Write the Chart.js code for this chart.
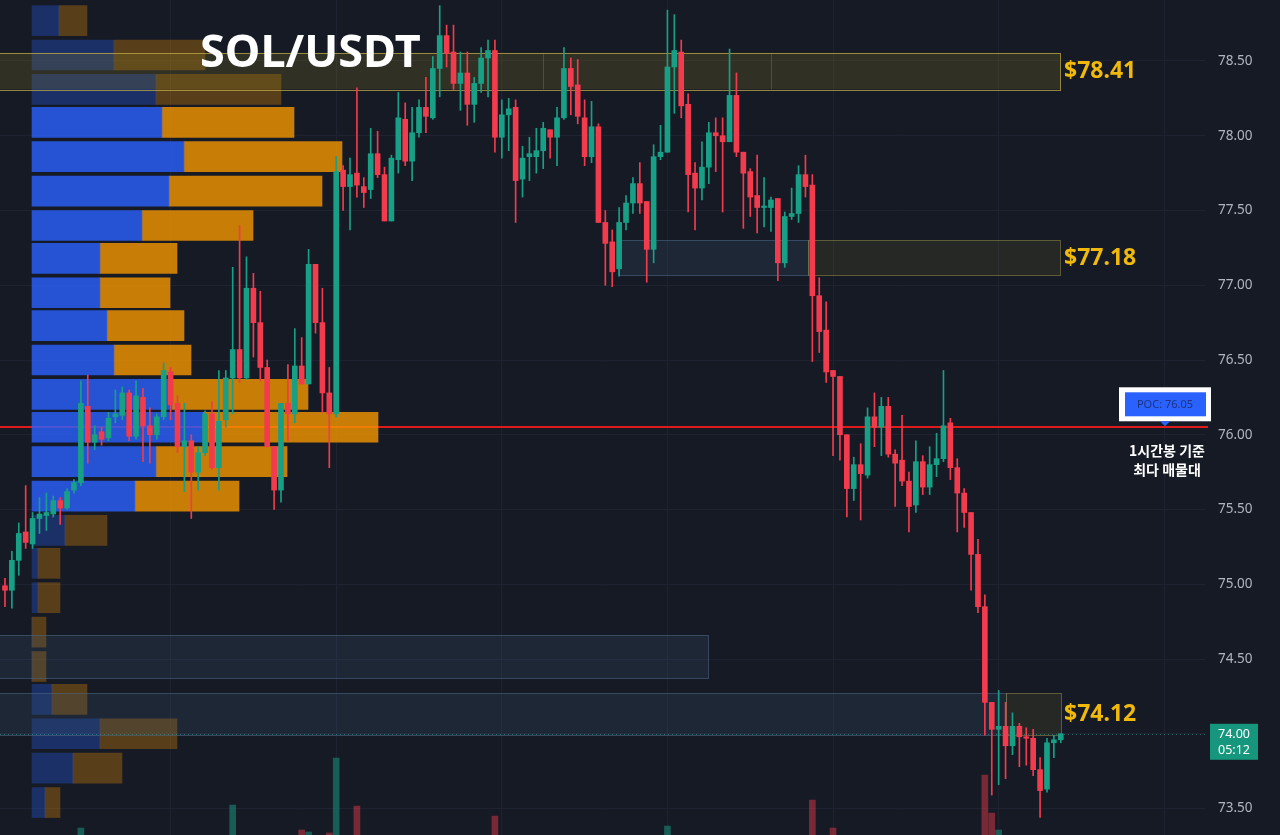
<!DOCTYPE html>
<html>
<head>
<meta charset="utf-8">
<script src="https://cdn.jsdelivr.net/npm/chart.js@4.4.1/dist/chart.umd.min.js"></script>
<style>
  html, body { margin: 0; padding: 0; background: #161a25; }
  #wrap { position: relative; width: 1280px; height: 835px; overflow: hidden; }
  #wrap canvas { position: absolute; left: 0; top: 0; }
</style>
</head>
<body>
<div id="wrap">
  <canvas id="gridChart" width="1280" height="835"></canvas>
  <canvas id="profileChart" width="1280" height="835"></canvas>
  <canvas id="priceChart" width="1280" height="835"></canvas>
</div>
<script>
// SOL/USDT 1시간봉 (154개)
const opens = [
  74.99, 74.96, 75.16, 75.35, 75.27, 75.44, 75.46, 75.47, 75.56, 75.51,
  75.63, 75.68, 76.19, 75.95, 76.02, 75.98, 76.12, 76.13, 76.28, 75.99,
  76.25, 76.06, 76.00, 76.12, 76.42, 76.21, 75.92, 75.96, 75.75, 75.88,
  76.14, 75.78, 76.10, 76.38, 76.57, 76.38, 76.98, 76.75, 76.45, 75.92,
  75.63, 76.21, 76.14, 76.46, 76.34, 77.14, 76.75, 76.28, 76.14, 77.77,
  77.66, 77.75, 77.66, 77.64, 77.88, 77.74, 77.43, 77.84, 78.11, 77.83,
  78.02, 78.19, 78.12, 78.45, 78.67, 78.56, 78.35, 78.42, 78.21, 78.35,
  78.52, 78.57, 77.99, 78.14, 78.19, 77.71, 77.86, 77.86, 77.90, 78.04,
  77.99, 78.12, 78.45, 78.34, 78.12, 77.86, 78.06, 77.42, 77.29, 77.11,
  77.42, 77.55, 77.68, 77.56, 77.24, 77.86, 77.89, 78.46, 78.56, 78.21,
  77.75, 77.65, 77.79, 78.02, 78.00, 77.96, 78.27, 77.89, 77.76, 77.60,
  77.52, 77.52, 77.58, 77.15, 77.46, 77.48, 77.74, 77.67, 76.93, 76.70,
  76.43, 76.39, 76.00, 75.64, 75.80, 75.73, 76.12, 76.05, 76.19, 75.87,
  75.83, 75.69, 75.53, 75.82, 75.65, 75.80, 75.84, 76.08, 75.78, 75.61,
  75.48, 75.20, 74.85, 74.21, 74.03, 74.05, 73.92, 74.05, 73.98, 73.97,
  73.76, 73.63, 73.94, 73.96
];
const highs = [
  75.04, 75.22, 75.41, 75.66, 75.48, 75.58, 75.61, 75.59, 75.58, 75.64,
  75.70, 76.36, 76.40, 76.06, 76.05, 76.15, 76.30, 76.32, 76.30, 76.36,
  76.31, 76.18, 76.14, 76.48, 76.45, 76.26, 76.21, 76.00, 75.92, 76.16,
  76.22, 76.43, 76.43, 77.12, 77.40, 77.19, 77.08, 76.96, 76.50, 75.92,
  76.21, 76.47, 76.71, 76.65, 77.24, 77.14, 76.98, 76.45, 77.86, 77.80,
  77.85, 78.32, 77.72, 78.05, 78.03, 77.79, 77.87, 78.29, 78.22, 78.19,
  78.24, 78.39, 78.53, 78.87, 78.74, 78.74, 78.56, 78.56, 78.39, 78.59,
  78.64, 78.64, 78.24, 78.25, 78.24, 77.93, 77.99, 78.05, 78.09, 78.04,
  78.19, 78.59, 78.52, 78.51, 78.24, 78.23, 78.08, 77.50, 77.37, 77.52,
  77.60, 77.72, 77.82, 77.56, 77.94, 78.07, 78.84, 78.81, 78.64, 78.28,
  77.82, 77.96, 78.09, 78.12, 78.12, 78.58, 78.42, 77.89, 77.78, 77.87,
  77.72, 77.59, 77.58, 77.49, 77.65, 77.80, 77.87, 77.74, 77.05, 76.89,
  76.43, 76.39, 76.00, 75.85, 75.94, 76.18, 76.28, 76.25, 76.25, 75.90,
  76.13, 75.75, 75.96, 75.86, 75.92, 76.01, 76.43, 76.11, 75.84, 75.64,
  75.48, 75.30, 74.93, 74.21, 74.29, 74.21, 74.14, 74.07, 74.04, 74.03,
  73.84, 73.97, 73.99, 74.00
];
const lows = [
  74.85, 74.84, 75.06, 75.24, 75.24, 75.34, 75.36, 75.45, 75.40, 75.50,
  75.61, 75.66, 75.81, 75.90, 75.93, 75.96, 76.08, 76.10, 75.96, 75.97,
  75.82, 75.81, 75.97, 76.10, 76.10, 75.88, 75.62, 75.44, 75.63, 75.86,
  75.77, 75.63, 76.05, 76.14, 76.35, 76.37, 76.52, 76.36, 75.92, 75.50,
  75.55, 75.96, 76.08, 76.34, 76.34, 76.68, 76.15, 75.78, 76.12, 77.50,
  77.37, 77.59, 77.52, 77.58, 77.72, 77.43, 77.43, 77.75, 77.80, 77.70,
  77.99, 78.02, 78.11, 78.26, 78.46, 78.31, 78.17, 78.07, 78.09, 78.29,
  78.26, 77.89, 77.85, 77.90, 77.42, 77.59, 77.70, 77.75, 77.78, 77.85,
  77.80, 78.11, 78.14, 78.08, 77.80, 77.82, 77.42, 77.00, 76.99, 77.06,
  77.37, 77.48, 77.48, 77.02, 77.15, 77.84, 77.89, 78.15, 78.12, 77.49,
  77.37, 77.57, 77.68, 77.76, 77.49, 77.96, 77.86, 77.38, 77.46, 77.35,
  77.39, 77.36, 77.03, 77.12, 77.44, 77.42, 77.59, 76.49, 76.55, 76.35,
  75.86, 75.83, 75.45, 75.56, 75.43, 75.71, 75.92, 75.86, 75.85, 75.52,
  75.66, 75.35, 75.48, 75.60, 75.60, 75.72, 75.82, 75.70, 75.35, 75.38,
  74.96, 74.81, 73.99, 73.59, 73.66, 73.70, 73.86, 73.78, 73.79, 73.72,
  73.44, 73.61, 73.84, 73.94
];
const closes = [
  74.96, 75.16, 75.34, 75.28, 75.44, 75.47, 75.48, 75.56, 75.51, 75.62,
  75.68, 76.21, 75.95, 76.00, 75.97, 76.11, 76.14, 76.28, 75.99, 76.26,
  76.06, 76.00, 76.12, 76.43, 76.20, 75.92, 75.96, 75.75, 75.88, 76.14,
  75.78, 76.09, 76.38, 76.57, 76.38, 76.98, 76.75, 76.45, 75.92, 75.63,
  76.21, 76.14, 76.46, 76.34, 77.14, 76.75, 76.28, 76.14, 77.76, 77.66,
  77.74, 77.67, 77.62, 77.88, 77.74, 77.43, 77.85, 78.12, 77.83, 78.02,
  78.19, 78.13, 78.45, 78.67, 78.55, 78.35, 78.42, 78.21, 78.35, 78.52,
  78.57, 77.99, 78.14, 78.18, 77.70, 77.85, 77.88, 77.90, 78.05, 77.99,
  78.12, 78.45, 78.33, 78.13, 77.86, 78.06, 77.42, 77.28, 77.09, 77.42,
  77.55, 77.68, 77.55, 77.24, 77.86, 77.89, 78.46, 78.57, 78.20, 77.74,
  77.65, 77.79, 78.02, 78.00, 77.96, 78.27, 77.89, 77.75, 77.59, 77.52,
  77.53, 77.57, 77.15, 77.46, 77.48, 77.74, 77.66, 76.93, 76.69, 76.42,
  76.39, 76.00, 75.64, 75.80, 75.74, 76.12, 76.05, 76.19, 75.87, 75.81,
  75.69, 75.52, 75.82, 75.65, 75.80, 75.84, 76.06, 75.78, 75.61, 75.48,
  75.20, 74.85, 74.21, 74.03, 74.05, 73.92, 74.05, 73.98, 73.97, 73.76,
  73.62, 73.94, 73.96, 74.00
];
// 거래량 (K SOL)
const volumes = [
  62, 75, 88, 94, 58, 51, 47, 55, 49, 60,
  52, 127, 98, 54, 41, 57, 49, 66, 71, 80,
  77, 63, 48, 95, 72, 81, 69, 84, 56, 61,
  74, 103, 92, 150, 112, 118, 86, 79, 109, 97,
  101, 76, 88, 125, 123, 96, 104, 122, 197, 91,
  84, 149, 58, 77, 66, 83, 80, 99, 87, 72,
  61, 70, 89, 116, 73, 85, 64, 79, 60, 74,
  83, 139, 78, 55, 101, 70, 46, 52, 68, 44,
  57, 102, 81, 69, 73, 66, 108, 95, 87, 79,
  64, 58, 62, 90, 111, 53, 129, 97, 94, 113,
  76, 60, 71, 48, 82, 106, 93, 78, 67, 72,
  45, 50, 98, 75, 42, 70, 63, 155, 110, 104,
  127, 107, 113, 80, 92, 98, 68, 76, 86, 71,
  88, 93, 84, 66, 59, 57, 115, 92, 85, 74,
  109, 117, 180, 142, 125, 101, 76, 68, 59, 87,
  96, 104, 62, 35
];
const priceTicks = [73.5, 74.0, 74.5, 75.0, 75.5, 76.0, 76.5, 77.0, 77.5, 78.0, 78.5];
const dayBreaks = [24, 48, 72, 96, 120, 144, 168];

// 매물대 (volume profile)
const profilePrices = [78.77, 78.54, 78.31, 78.09, 77.86, 77.63, 77.40, 77.18, 76.95, 76.73, 76.50, 76.27,
                       76.05, 75.82, 75.59, 75.36, 75.14, 74.91, 74.68, 74.45, 74.23, 74.00, 73.77, 73.54];
const profileBuy  = [27, 82, 124, 130, 152, 137, 110, 68, 68, 75, 82, 140, 171, 124, 103, 33, 6, 6, 0, 0, 20, 68, 41, 13];
const profileSell = [28, 91, 125, 132, 158, 153, 111, 77, 70, 77, 77, 136, 175, 131, 104, 42, 22, 22, 14, 14, 35, 77, 49, 15];
const valueAreaHigh = 78.20;
const valueAreaLow = 75.48;
const pocPrice = 76.05;

// 지지/저항 구간
const zoneLabels = ['$78.41', '$77.18', '', '$74.12'];
const zoneHigh   = [78.555, 77.30, 74.66, 74.27];
const zoneLow    = [78.31, 77.065, 74.37, 73.99];
const zoneFrom   = [-1, 88.8, -1, -1];
const zoneSplit  = [-1, 116.4, 101.9, 145.1];
const zoneTo     = [152.9, 152.9, 101.9, 153.1];
const zone1Dividers = [78, 111];

const lastPrice = 74.00;
const countdown = '05:12';

const yMin = 73.323, yMax = 78.908;
const xMin = -0.72, xMax = 173.9;

Chart.defaults.font.family = '"Noto Sans", sans-serif';

const upColor = '#18a086';
const downColor = '#f23b4c';
const gridColor = '#1f2331';
const idx = opens.map((_, i) => i);
const candleColors = idx.map(i => closes[i] >= opens[i] ? upColor : downColor);

const baseOptions = {
  responsive: false,
  animation: false,
  events: [],
  layout: { padding: 0 },
  plugins: { legend: { display: false }, tooltip: { enabled: false } }
};

// 가격/시간 축 (그리드는 맨 아래 캔버스에만 그림)
function priceScales(showGrid) {
  return {
    x: {
      type: 'linear', min: xMin, max: xMax, offset: false,
      grid: { display: showGrid, color: gridColor, drawTicks: false, offset: false },
      border: { display: false },
      ticks: { display: false },
      afterBuildTicks: s => { s.ticks = dayBreaks.map(v => ({ value: v })); },
      afterFit: s => { s.height = 0; s.paddingLeft = 0; s.paddingRight = 0; }
    },
    y: {
      type: 'linear', position: 'right', min: yMin, max: yMax,
      grid: { display: showGrid, color: gridColor, drawTicks: false },
      border: { display: false },
      ticks: { color: showGrid ? '#b2b5be' : 'rgba(0,0,0,0)', padding: 13, font: { size: 13.5 }, callback: v => v.toFixed(2) },
      afterBuildTicks: s => { s.ticks = priceTicks.map(v => ({ value: v })); },
      afterFit: s => { s.width = 75; s.paddingTop = 0; s.paddingBottom = 0; }
    },
    yv: { type: 'linear', display: false, min: 120, max: 955 }
  };
}

new Chart(document.getElementById('gridChart'), {
  type: 'bar',
  data: { datasets: [] },
  options: { ...baseOptions, scales: priceScales(true) }
});

// POC 라인 (매물대 캔버스 위에)
const pocLinePlugin = {
  id: 'pocLine',
  beforeDatasetsDraw(chart) {
    const ctx = chart.ctx;
    const y = Math.round(chart.scales.y.getPixelForValue(pocPrice));
    ctx.save();
    ctx.strokeStyle = '#e01b1b';
    ctx.lineWidth = 2;
    ctx.beginPath();
    ctx.moveTo(0, y);
    ctx.lineTo(1208, y);
    ctx.stroke();
    ctx.restore();
  }
};

const inVA = p => p <= valueAreaHigh && p >= valueAreaLow;

new Chart(document.getElementById('profileChart'), {
  type: 'bar',
  data: {
    datasets: [
      {
        data: profilePrices.map((p, i) => ({ y: p, x: [0, profileBuy[i]] })),
        backgroundColor: profilePrices.map(p => inVA(p) ? 'rgba(41,98,255,0.8)' : 'rgba(41,98,255,0.3)'),
        barThickness: 30,
        grouped: false
      },
      {
        data: profilePrices.map((p, i) => ({ y: p, x: [profileBuy[i], profileBuy[i] + profileSell[i]] })),
        backgroundColor: profilePrices.map(p => inVA(p) ? 'rgba(245,150,0,0.8)' : 'rgba(245,150,0,0.3)'),
        barThickness: 30,
        grouped: false
      }
    ]
  },
  options: {
    ...baseOptions,
    indexAxis: 'y',
    scales: {
      x: { type: 'linear', min: -32, max: 1248, display: false },
      y: { type: 'linear', min: yMin, max: yMax, display: false, offset: false }
    }
  },
  plugins: [pocLinePlugin]
});

function box(ctx, x0, y0, x1, y1, fill, stroke) {
  ctx.fillStyle = fill;
  ctx.fillRect(x0, y0, x1 - x0, y1 - y0);
  ctx.strokeStyle = stroke;
  ctx.lineWidth = 1;
  ctx.strokeRect(Math.round(x0) + 0.5, Math.round(y0) + 0.5, Math.round(x1 - x0), Math.round(y1 - y0));
}

const overlayPlugin = {
  id: 'overlay',
  beforeDatasetsDraw(chart) {
    const { ctx, chartArea, scales: { x, y } } = chart;
    ctx.save();
    zoneHigh.forEach((hi, k) => {
      const top = y.getPixelForValue(hi);
      const bot = y.getPixelForValue(zoneLow[k]);
      const x0 = x.getPixelForValue(zoneFrom[k]);
      const xs = x.getPixelForValue(zoneSplit[k]);
      const x1 = x.getPixelForValue(zoneTo[k]);
      if (xs > x0) box(ctx, x0, top, xs, bot, 'rgba(60,85,120,0.22)', 'rgba(75,100,130,0.6)');
      if (x1 > xs) {
        const strong = k === 0;
        box(ctx, xs, top, x1, bot,
          strong ? 'rgba(130,115,40,0.25)' : 'rgba(120,110,50,0.17)',
          strong ? 'rgba(190,170,70,0.75)' : 'rgba(150,140,70,0.55)');
      }
    });
    // 상단 구간 내부 구분선
    const t1 = y.getPixelForValue(zoneHigh[0]), b1 = y.getPixelForValue(zoneLow[0]);
    ctx.strokeStyle = 'rgba(150,140,80,0.35)';
    zone1Dividers.forEach(d => {
      const px = Math.round(x.getPixelForValue(d)) + 0.5;
      ctx.beginPath(); ctx.moveTo(px, t1); ctx.lineTo(px, b1); ctx.stroke();
    });
    // 현재가 점선
    const py = Math.round(y.getPixelForValue(lastPrice)) + 0.5;
    ctx.strokeStyle = 'rgba(38,166,154,0.55)';
    ctx.setLineDash([1, 3]);
    ctx.beginPath(); ctx.moveTo(chartArea.left, py); ctx.lineTo(chartArea.right + 3, py); ctx.stroke();
    ctx.restore();
  },
  afterDraw(chart) {
    const { ctx, chartArea, scales: { y } } = chart;
    ctx.save();
    // 구간 가격 라벨
    ctx.font = 'bold 23px "Noto Sans"';
    ctx.fillStyle = '#f0b90b';
    ctx.textBaseline = 'middle';
    ctx.textAlign = 'left';
    zoneLabels.forEach((t, k) => {
      if (!t) return;
      const cy = (y.getPixelForValue(zoneHigh[k]) + y.getPixelForValue(zoneLow[k])) / 2;
      ctx.fillText(t, 1064, cy);
    });
    // 제목
    ctx.font = 'bold 45px "Noto Sans"';
    ctx.fillStyle = '#ffffff';
    ctx.fillText('SOL/USDT', 200, 54);

    // POC 박스
    const pocY = y.getPixelForValue(pocPrice);
    const bx0 = chartArea.right - 86, bx1 = chartArea.right + 6;
    const by0 = pocY - 40, by1 = pocY - 6;
    ctx.fillStyle = '#ffffff';
    ctx.fillRect(bx0, by0, bx1 - bx0, by1 - by0);
    ctx.fillStyle = '#2962ff';
    ctx.fillRect(bx0 + 6, by0 + 5, bx1 - bx0 - 11, by1 - by0 - 10);
    ctx.beginPath();
    const cx = (bx0 + bx1) / 2;
    ctx.moveTo(cx - 5, by1); ctx.lineTo(cx + 5, by1); ctx.lineTo(cx, by1 + 5); ctx.closePath();
    ctx.fill();
    ctx.fillStyle = '#1e3380';
    ctx.font = '11px "Noto Sans"';
    ctx.textAlign = 'center';
    ctx.fillText('POC: ' + pocPrice.toFixed(2), cx, (by0 + by1) / 2 + 1);

    // 설명
    ctx.fillStyle = '#ffffff';
    ctx.font = 'bold 14px "Noto Sans CJK KR"';
    ctx.fillText('1시간봉 기준', cx + 2, pocY + 23);
    ctx.fillText('최다 매물대', cx + 2, pocY + 42);

    // 현재가 라벨
    const py = y.getPixelForValue(lastPrice);
    const lx0 = chartArea.right + 5;
    ctx.fillStyle = '#16967d';
    ctx.fillRect(lx0, py - 10, 48, 36);
    ctx.fillStyle = '#ffffff';
    ctx.font = '12.5px "Noto Sans"';
    ctx.fillText(lastPrice.toFixed(2), lx0 + 24, py + 1);
    ctx.fillText(countdown, lx0 + 24, py + 17);
    ctx.restore();
  }
};

new Chart(document.getElementById('priceChart'), {
  type: 'bar',
  data: {
    datasets: [
      {
        label: 'volume',
        data: idx.map(i => ({ x: i, y: volumes[i] })),
        yAxisID: 'yv',
        backgroundColor: idx.map(i => closes[i] >= opens[i] ? 'rgba(24,160,134,0.5)' : 'rgba(242,59,76,0.45)'),
        barThickness: 6,
        grouped: false,
        order: 3
      },
      {
        label: 'wick',
        data: idx.map(i => ({ x: i, y: [lows[i], highs[i]] })),
        backgroundColor: candleColors,
        barThickness: 1,
        grouped: false,
        order: 2
      },
      {
        label: 'body',
        data: idx.map(i => ({ x: i, y: [opens[i], closes[i]] })),
        backgroundColor: candleColors,
        barThickness: 5,
        minBarLength: 1,
        grouped: false,
        order: 1
      }
    ]
  },
  options: { ...baseOptions, scales: priceScales(false) },
  plugins: [overlayPlugin]
});
</script>
</body>
</html>
